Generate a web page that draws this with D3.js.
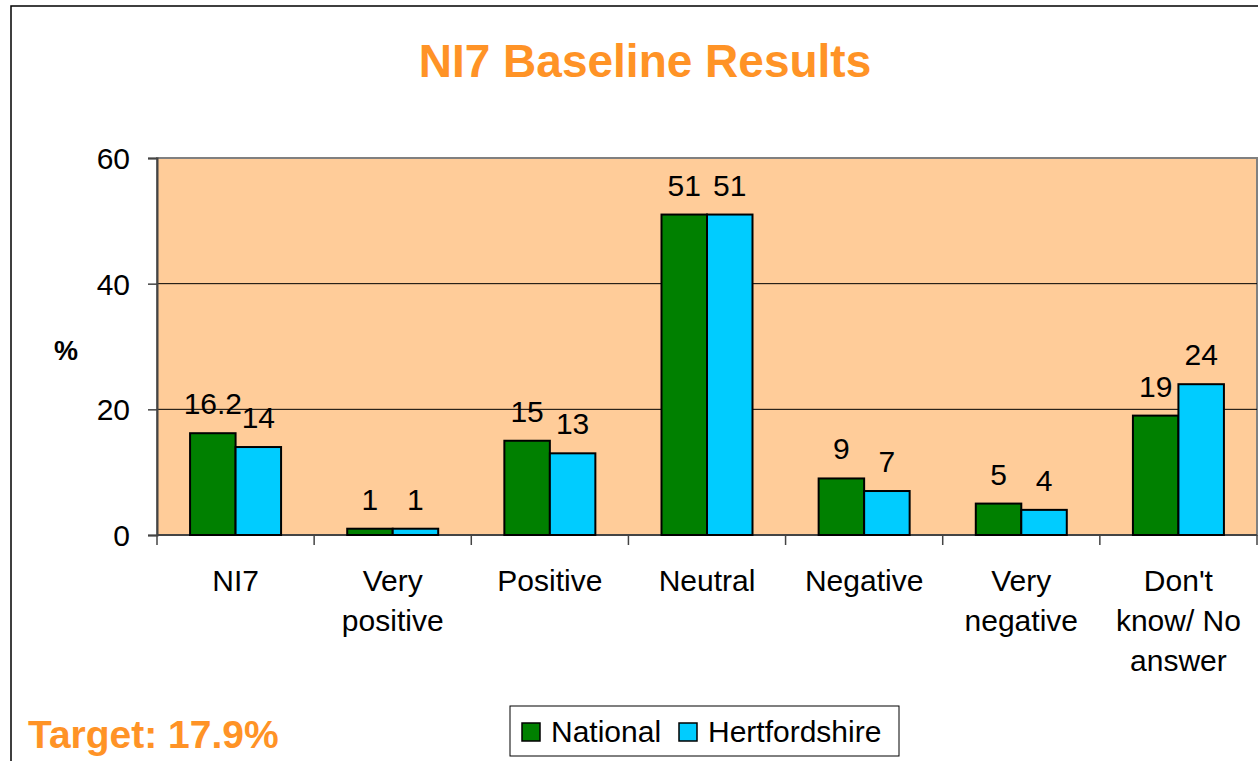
<html>
<script src="https://d3js.org/d3.v7.min.js"></script>
<style>
    body { margin: 0; background: #fff; }
    svg { font-family: "Liberation Sans", Arial, sans-serif; }
    .bar { stroke: #000; stroke-width: 2px; }
    .val { font-size: 30px; text-anchor: middle; fill: #000; }
    .xlab { font-size: 30px; text-anchor: middle; }
</style>
<svg width=1258 height=761></svg>
<script>
    let categories = [['NI7'], ['Very', 'positive'], ['Positive'], ['Neutral'], ['Negative'], ['Very', 'negative'], ["Don't", 'know/ No', 'answer']];
    let seriesNames = ['National', 'Hertfordshire'];
    let national = [16.2, 1, 15, 51, 9, 5, 19];
    let hertfordshire = [14, 1, 13, 51, 7, 4, 24];
    let yTicks = [0, 20, 40, 60];
    let colors = ['#008000', '#00CCFF'];

    let svg = d3.select('svg');
    let margin = { top: 158, left: 157, right: 1257, bottom: 535 };

    // outer frame
    svg.append('rect')
        .attr('x', 11).attr('y', 6)
        .attr('width', 1300).attr('height', 800)
        .attr('fill', 'none').attr('stroke', '#000').attr('stroke-width', 1.5);

    svg.append('text')
        .attr('x', 645).attr('y', 77)
        .attr('text-anchor', 'middle')
        .attr('font-size', 46).attr('font-weight', 'bold')
        .attr('fill', '#FF9326')
        .text('NI7 Baseline Results');

    let x = d3.scaleBand()
        .domain(d3.range(categories.length))
        .range([margin.left, margin.right])
        .paddingInner(0).paddingOuter(0);
    let y = d3.scaleLinear().domain([0, 60]).range([margin.bottom, margin.top]);

    svg.append('rect')
        .attr('x', margin.left).attr('y', margin.top)
        .attr('width', margin.right - margin.left)
        .attr('height', margin.bottom - margin.top)
        .attr('fill', '#FFCC99')
        .attr('stroke', '#808080').attr('stroke-width', 2);

    // gridlines
    svg.selectAll('.grid')
        .data(yTicks.filter(d => d > 0 && d < 60))
        .enter().append('line')
        .attr('x1', margin.left).attr('x2', margin.right)
        .attr('y1', d => y(d)).attr('y2', d => y(d))
        .attr('stroke', '#000').attr('stroke-width', 1);

    // y axis
    let yAxis = svg.append('g')
        .attr('transform', 'translate(' + margin.left + ',0)')
        .call(d3.axisLeft(y).tickValues(yTicks).tickSize(9).tickPadding(18));
    yAxis.select('.domain').attr('stroke', '#444').attr('stroke-width', 2);
    yAxis.selectAll('.tick line').attr('stroke', '#444').attr('stroke-width', 1.5);
    yAxis.selectAll('.tick text')
        .attr('font-size', 30).attr('font-family', '"Liberation Sans", Arial, sans-serif')
        .attr('fill', '#000').attr('dy', '0.35em');

    // x axis
    let xAxis = svg.append('g')
        .attr('transform', 'translate(0,' + margin.bottom + ')');
    xAxis.append('line')
        .attr('x1', margin.left).attr('x2', margin.right)
        .attr('stroke', '#444').attr('stroke-width', 2);
    xAxis.selectAll('.xt')
        .data(d3.range(categories.length + 1))
        .enter().append('line')
        .attr('x1', d => margin.left + d * x.bandwidth())
        .attr('x2', d => margin.left + d * x.bandwidth())
        .attr('y1', 0).attr('y2', 10)
        .attr('stroke', '#444').attr('stroke-width', 1.5);

    let labels = svg.selectAll('.xlab')
        .data(categories)
        .enter().append('text')
        .attr('class', 'xlab')
        .attr('x', (d, i) => x(i) + x.bandwidth() / 2)
        .attr('y', 591);
    labels.selectAll('tspan')
        .data(d => d)
        .enter().append('tspan')
        .attr('x', function() { return this.parentNode.getAttribute('x'); })
        .attr('dy', (d, i) => i === 0 ? 0 : 40)
        .text(d => d);

    // bars
    let barW = 45.5;
    let series = [national, hertfordshire];
    series.forEach((vals, s) => {
        svg.selectAll('.bar' + s)
            .data(vals)
            .enter().append('rect')
            .attr('class', 'bar')
            .attr('x', (d, i) => x(i) + x.bandwidth() / 2 - barW + s * barW)
            .attr('y', d => y(d))
            .attr('width', barW)
            .attr('height', d => y(0) - y(d))
            .attr('fill', colors[s]);
        svg.selectAll('.val' + s)
            .data(vals)
            .enter().append('text')
            .attr('class', 'val')
            .attr('x', (d, i) => x(i) + x.bandwidth() / 2 - barW / 2 + s * barW)
            .attr('y', d => y(d) - 19)
            .text(d => d);
    });

    // % label
    svg.append('text')
        .attr('x', 66).attr('y', 360)
        .attr('text-anchor', 'middle')
        .attr('font-size', 27).attr('font-weight', 'bold')
        .text('%');

    // target
    svg.append('text')
        .attr('x', 28).attr('y', 748)
        .attr('font-size', 39).attr('font-weight', 'bold')
        .attr('fill', '#FF9326')
        .text('Target: 17.9%');

    // legend
    let legend = svg.append('g');
    legend.append('rect')
        .attr('x', 510).attr('y', 706)
        .attr('width', 389).attr('height', 50)
        .attr('fill', '#fff').attr('stroke', '#000').attr('stroke-width', 1);
    let lx = [522, 679];
    seriesNames.forEach((n, i) => {
        legend.append('rect')
            .attr('x', lx[i]).attr('y', 723)
            .attr('width', 18).attr('height', 18)
            .attr('fill', colors[i]).attr('stroke', '#000').attr('stroke-width', 1.5);
        legend.append('text')
            .attr('x', lx[i] + 29).attr('y', 742)
            .attr('font-size', 30)
            .text(n);
    });
</script>
</html>
